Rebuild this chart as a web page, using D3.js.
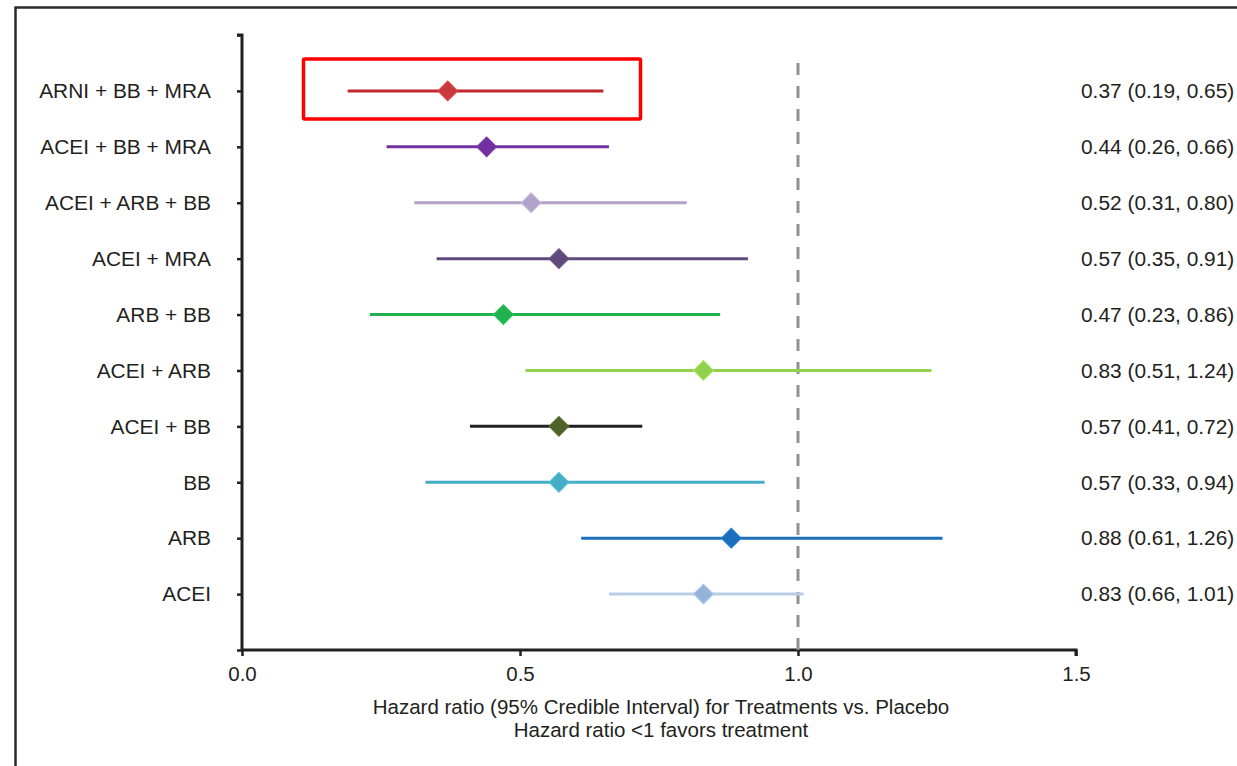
<!DOCTYPE html>
<html>
<head>
<meta charset="utf-8">
<script src="https://cdn.jsdelivr.net/npm/d3@7"></script>
<style>
  body { margin: 0; background: #fff; }
  svg text { font-family: "Liberation Sans", Arial, sans-serif; fill: #231f20; }
</style>
</head>
<body>
<div id="chart"></div>
<script>
// treatments, bottom to top as drawn
const treatments = ["ACEI", "ARB", "BB", "ACEI + BB", "ACEI + ARB", "ARB + BB", "ACEI + MRA", "ACEI + ARB + BB", "ACEI + BB + MRA", "ARNI + BB + MRA"]
const hr    = [0.83, 0.88, 0.57, 0.57, 0.83, 0.47, 0.57, 0.52, 0.44, 0.37]
const lower = [0.66, 0.61, 0.33, 0.41, 0.51, 0.23, 0.35, 0.31, 0.26, 0.19]
const upper = [1.01, 1.26, 0.94, 0.72, 1.24, 0.86, 0.91, 0.80, 0.66, 0.65]
const lineColors   = ["#b9cde5", "#1b6fbb", "#46adc6", "#231f20", "#92d050", "#21b14f", "#604a7b", "#b3a2c7", "#7030a0", "#c0272d"]
const markerColors = ["#95b3d7", "#1b6fbb", "#46adc6", "#4f6228", "#92d050", "#21b14f", "#604a7b", "#b3a2c7", "#7030a0", "#c9393d"]
const xTicks = [0, 0.5, 1.0, 1.5]
const highlighted = "ARNI + BB + MRA"

const W = 1237, H = 766
const margin = {top: 35, right: 161, bottom: 116, left: 242}
const fontSize = "20.5px"
const rowFontSize = "20.9px"

const svg = d3.select("#chart").append("svg")
    .attr("width", W)
    .attr("height", H)

// outer frame (only top and left edges show in the picture)
svg.append("rect")
    .attr("x", 15.5).attr("y", 7.5)
    .attr("width", W + 20).attr("height", H + 20)
    .attr("fill", "none")
    .attr("stroke", "#2b2b2b")
    .attr("stroke-width", 2.5)

const data = treatments.map((t, i) => ({name: t, hr: hr[i], lo: lower[i], hi: upper[i], line: lineColors[i], marker: markerColors[i], pos: i + 1}))

const x = d3.scaleLinear()
    .domain([0, 1.5])
    .range([margin.left, W - margin.right])

const y = d3.scaleLinear()
    .domain([0, treatments.length + 1])
    .range([H - margin.bottom, margin.top])

// axes
const xAxis = d3.axisBottom(x)
    .tickValues(xTicks)
    .tickFormat(d3.format(".1f"))
    .tickSize(6)
    .tickPadding(10)

const yAxis = d3.axisLeft(y)
    .tickValues(d3.range(0, treatments.length + 2))
    .tickFormat("")
    .tickSize(5)

const gx = svg.append("g")
    .attr("transform", `translate(0, ${y(0)})`)
    .call(xAxis)
gx.select(".domain").attr("d", `M${x(0)},0H${x(1.5)}V6`).attr("stroke", "#231f20").attr("stroke-width", 3)
gx.selectAll(".tick line").attr("stroke", "#231f20").attr("stroke-width", 2.5)
gx.selectAll(".tick text").style("font-size", fontSize).style("font-family", "'Liberation Sans', Arial, sans-serif").attr("fill", "#231f20")

const gy = svg.append("g")
    .attr("transform", `translate(${x(0)}, 0)`)
    .call(yAxis)
gy.select(".domain").attr("d", `M-5,${y(11)}H0V${y(0)}`).attr("stroke", "#231f20").attr("stroke-width", 3)
gy.selectAll(".tick line").attr("stroke", "#231f20").attr("stroke-width", 2.5)

// reference line at HR = 1
svg.append("line")
    .attr("x1", x(1)).attr("x2", x(1))
    .attr("y1", y(10.5)).attr("y2", y(0))
    .attr("stroke", "#919191")
    .attr("stroke-width", 3)
    .attr("stroke-dasharray", "12,11")

// row labels
svg.selectAll(".row-label")
    .data(data)
    .enter()
    .append("text")
    .attr("class", "row-label")
    .attr("x", 211)
    .attr("y", d => y(d.pos))
    .attr("dy", "0.35em")
    .attr("text-anchor", "end")
    .style("font-size", rowFontSize)
    .text(d => d.name)

// CI lines
svg.selectAll(".ci")
    .data(data)
    .enter()
    .append("line")
    .attr("class", "ci")
    .attr("x1", d => x(d.lo))
    .attr("x2", d => x(d.hi))
    .attr("y1", d => y(d.pos))
    .attr("y2", d => y(d.pos))
    .attr("stroke", d => d.line)
    .attr("stroke-width", 3)

// diamonds
svg.selectAll(".pt")
    .data(data)
    .enter()
    .append("rect")
    .attr("class", "pt")
    .attr("x", -7).attr("y", -7)
    .attr("width", 14).attr("height", 14)
    .attr("transform", d => `translate(${x(d.hr)}, ${y(d.pos)}) rotate(45)`)
    .attr("fill", d => d.marker)
    .attr("stroke", d => d3.color(d.marker).brighter(0.35))
    .attr("stroke-width", 1)

// values text
const fmt = d3.format(".2f")
svg.selectAll(".val")
    .data(data)
    .enter()
    .append("text")
    .attr("class", "val")
    .attr("x", 1081)
    .attr("y", d => y(d.pos))
    .attr("dy", "0.35em")
    .style("font-size", rowFontSize)
    .text(d => `${fmt(d.hr)} (${fmt(d.lo)}, ${fmt(d.hi)})`)

// highlight box
const hl = data.find(d => d.name === highlighted)
svg.append("rect")
    .attr("x", 303.5)
    .attr("y", y(hl.pos) - 32)
    .attr("width", 337)
    .attr("height", 60)
    .attr("fill", "none")
    .attr("stroke", "#ff0000")
    .attr("stroke-width", 3.5)
    .attr("rx", 1)

// x axis title
const title = svg.append("text")
    .attr("x", 661)
    .attr("text-anchor", "middle")
    .style("font-size", fontSize)
title.append("tspan").attr("x", 661).attr("y", 714).text("Hazard ratio (95% Credible Interval) for Treatments vs. Placebo")
title.append("tspan").attr("x", 661).attr("y", 737).text("Hazard ratio <1 favors treatment")
</script>
</body>
</html>
